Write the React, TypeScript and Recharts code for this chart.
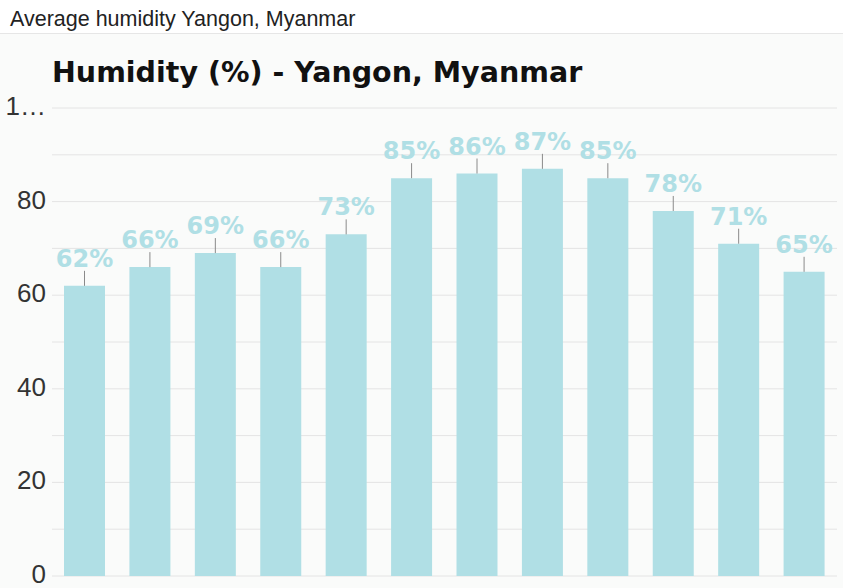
import React from 'react';
import { BarChart, Bar, XAxis, YAxis, CartesianGrid, LabelList } from 'recharts';

const months = ['Jan', 'Feb', 'Mar', 'Apr', 'May', 'Jun', 'Jul', 'Aug', 'Sep', 'Oct', 'Nov', 'Dec'];
const humidity = [62, 66, 69, 66, 73, 85, 86, 87, 85, 78, 71, 65];
const yTicks = [0, 10, 20, 30, 40, 50, 60, 70, 80, 90, 100];
const pageTitle = 'Average humidity Yangon, Myanmar';
const chartTitle = 'Humidity (%) - Yangon, Myanmar';

const data = months.map((m, i) => ({ month: m, humidity: humidity[i] }));

const BAR_COLOR = '#b0dfe5';

const YTick = (props: any) => {
  const { x, y, payload } = props;
  const v = payload.value;
  if (v % 20 !== 0) return <g />;
  const label = v === 100 ? '1…' : String(v);
  return (
    <text
      x={x}
      y={y}
      dy="0.27em"
      textAnchor="end"
      fontFamily="'Liberation Sans', Arial, sans-serif"
      fontSize={26}
      fill="#333"
    >
      {label}
    </text>
  );
};

const renderLabel = (props: any) => {
  const { x, y, width, value } = props;
  const cx = Number(x) + Number(width) / 2;
  const top = Number(y);
  return (
    <g>
      <line x1={cx} x2={cx} y1={top} y2={top - 15} stroke="#8a8a8a" strokeWidth={1} />
      <text
        x={cx}
        y={top - 19}
        textAnchor="middle"
        fontFamily="'DejaVu Sans', sans-serif"
        fontWeight="bold"
        fontSize={24}
        fill={BAR_COLOR}
      >
        {`${value}%`}
      </text>
    </g>
  );
};

export default function App() {
  return (
    <div style={{ position: 'relative', width: 843, height: 588, background: '#fafbfa', overflow: 'hidden' }}>
      <style>{`body{margin:0}`}</style>
      <div style={{ position: 'absolute', left: 0, top: 0, width: 843, height: 33, background: '#ffffff', borderBottom: '1px solid #e6e6e6' }} />
      <div style={{ position: 'absolute', left: 0, top: 0 }}>
        <BarChart
          width={843}
          height={588}
          data={data}
          margin={{ top: 108, right: 6, bottom: 12, left: 0 }}
        >
          <CartesianGrid vertical={false} stroke="#e4e4e4" />
          <XAxis
            dataKey="month"
            height={0}
            tick={false}
            tickLine={false}
            axisLine={{ stroke: '#333', strokeWidth: 1.5 }}
          />
          <YAxis
            width={52}
            domain={[0, 100]}
            ticks={yTicks}
            interval={0}
            axisLine={false}
            tickLine={false}
            tickMargin={0}
            tick={<YTick />}
          />
          <Bar dataKey="humidity" fill={BAR_COLOR} barSize={41} isAnimationActive={false}>
            <LabelList dataKey="humidity" content={renderLabel} />
          </Bar>
        </BarChart>
      </div>
      <svg width={843} height={100} style={{ position: 'absolute', left: 0, top: 0, pointerEvents: 'none' }}>
        <text x={10} y={26} fontFamily="'Liberation Sans', Arial, sans-serif" fontSize={21.5} fill="#222">
          {pageTitle}
        </text>
        <text x={52} y={82} fontFamily="'DejaVu Sans', sans-serif" fontWeight="bold" fontSize={28.5} fill="#111">
          {chartTitle}
        </text>
      </svg>
    </div>
  );
}
